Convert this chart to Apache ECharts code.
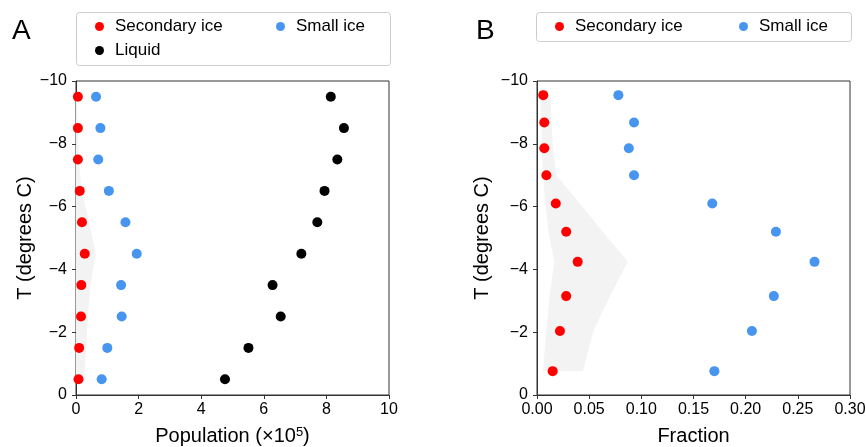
<!DOCTYPE html>
<html>
<head>
<meta charset="utf-8">
<script src="https://cdn.jsdelivr.net/npm/echarts@6/dist/echarts.min.js"></script>
<style>
  html, body { margin: 0; padding: 0; background: #fff; }
  #chart { width: 866px; height: 447px; }
</style>
</head>
<body>
<div id="chart"></div>
<script>
// panel A: populations (x 1e5) against temperature
var tempA = [-9.5, -8.5, -7.5, -6.5, -5.5, -4.5, -3.5, -2.5, -1.5, -0.5];
var secondaryA = [0.06, 0.06, 0.06, 0.12, 0.19, 0.28, 0.17, 0.16, 0.10, 0.08];
var smallA = [0.64, 0.78, 0.71, 1.05, 1.58, 1.94, 1.44, 1.46, 1.00, 0.82];
var liquidA = [8.14, 8.56, 8.35, 7.94, 7.71, 7.20, 6.28, 6.54, 5.51, 4.76];
var bandLowA = [0, 0, 0, 0, 0, 0, 0, 0, 0, 0];
var bandHighA = [0.03, 0.06, 0.10, 0.17, 0.42, 0.63, 0.46, 0.38, 0.33, 0.26];

// panel B: fractions against temperature
var tempB = [-9.55, -8.68, -7.86, -7.0, -6.1, -5.2, -4.24, -3.15, -2.04, -0.76];
var secondaryB = [0.006, 0.007, 0.007, 0.009, 0.018, 0.028, 0.039, 0.028, 0.022, 0.015];
var smallB = [0.078, 0.093, 0.088, 0.093, 0.168, 0.229, 0.266, 0.227, 0.206, 0.170];
var bandLowB = [0.003, 0.004, 0.0045, 0.0057, 0.008, 0.011, 0.0166, 0.0121, 0.0089, 0.0057];
var bandHighB = [0.013, 0.014, 0.0153, 0.0185, 0.041, 0.063, 0.087, 0.070, 0.054, 0.044];

var xTicksA = [0, 2, 4, 6, 8, 10];
var xTicksB = [0, 0.05, 0.1, 0.15, 0.2, 0.25, 0.3];
var yTicks = [-10, -8, -6, -4, -2, 0];

var RED = '#ff0000', BLUE = '#4795ee', BLACK = '#000000', BAND = '#f3f3f3';
var FONT = 'Liberation Sans, Arial, sans-serif';

function minus(v) {
  return v < 0 ? '\u2212' + Math.abs(v) : String(v);
}

function pairs(xs, ys) {
  return xs.map(function (x, i) { return [x, ys[i]]; });
}

// shaded band as one polygon: high edge top->bottom, low edge back up
function bandSeries(idx, lows, highs, temps) {
  return {
    type: 'custom',
    xAxisIndex: idx,
    yAxisIndex: idx,
    silent: true,
    data: temps.map(function (t, i) { return [lows[i], highs[i], t]; }),
    encode: { x: [0, 1], y: 2 },
    renderItem: function (params, api) {
      if (params.dataIndex !== 0) return null;
      var pts = [];
      for (var i = 0; i < temps.length; i++) pts.push(api.coord([highs[i], temps[i]]));
      for (var j = temps.length - 1; j >= 0; j--) pts.push(api.coord([lows[j], temps[j]]));
      return { type: 'polygon', shape: { points: pts }, style: { fill: BAND } };
    },
    z: 1
  };
}

function scatter(name, idx, data, color) {
  return {
    name: name,
    type: 'scatter',
    xAxisIndex: idx,
    yAxisIndex: idx,
    symbol: 'circle',
    symbolSize: 10,
    itemStyle: { color: color, opacity: 1 },
    data: data,
    z: 3
  };
}

function valueX(idx, min, max, interval, fmt, name, nameRich) {
  return {
    type: 'value',
    gridIndex: idx,
    min: min, max: max, interval: interval,
    name: name,
    nameLocation: 'middle',
    nameGap: 31,
    nameTextStyle: { fontSize: 20, color: '#000', fontFamily: FONT, rich: nameRich },
    axisLine: { show: true, onZero: false, lineStyle: { color: '#333', width: 1 } },
    axisTick: { show: true, length: 4, lineStyle: { color: '#333' } },
    axisLabel: { fontSize: 16, color: '#000', fontFamily: FONT, margin: 7, formatter: fmt, showMinLabel: true, showMaxLabel: true },
    splitLine: { show: false }
  };
}

function valueY(idx, gap) {
  return {
    type: 'value',
    gridIndex: idx,
    min: -10, max: 0, interval: 2,
    inverse: true,
    name: 'T (degrees C)',
    nameLocation: 'middle',
    nameGap: gap,
    nameRotate: 90,
    nameTextStyle: { fontSize: 20, color: '#000', fontFamily: FONT },
    axisLine: { show: true, onZero: false, lineStyle: { color: '#333', width: 1 } },
    axisTick: { show: true, length: 4, lineStyle: { color: '#333' } },
    axisLabel: { fontSize: 16, color: '#000', fontFamily: FONT, margin: 9, formatter: minus },
    splitLine: { show: false }
  };
}

function legendItem(name, left, top) {
  return {
    data: [name],
    left: left, top: top,
    padding: 0,
    icon: 'circle',
    itemWidth: 9, itemHeight: 9,
    selectedMode: false,
    textStyle: { fontSize: 17, color: '#000', fontFamily: FONT, padding: [0, 0, 0, 6] }
  };
}

var chart = echarts.init(document.getElementById('chart'), null, { renderer: 'canvas' });

chart.setOption({
  animation: false,
  backgroundColor: '#fff',
  grid: [
    { left: 76, right: 477, top: 81, bottom: 52, containLabel: false, outerBoundsMode: 'none', show: true, borderColor: '#333', borderWidth: 1 },
    { left: 537, right: 16, top: 81, bottom: 52, containLabel: false, outerBoundsMode: 'none', show: true, borderColor: '#333', borderWidth: 1 }
  ],
  xAxis: [
    valueX(0, 0, 10, 2, function (v) { return String(v); }, 'Population (\u00d710{sup|5})',
      { sup: { fontSize: 13, verticalAlign: 'top', padding: [0, 0, 8, 0], fontFamily: FONT } }),
    valueX(1, 0, 0.3, 0.05, function (v) { return v.toFixed(2); }, 'Fraction')
  ],
  yAxis: [valueY(0, 41), valueY(1, 45)],
  legend: [
    legendItem('Secondary ice', 95, 18),
    legendItem('Small ice', 276, 18),
    legendItem('Liquid', 95, 42),
    legendItem('Secondary ice', 555, 18),
    legendItem('Small ice', 739, 18)
  ],
  graphic: [
    { type: 'rect', left: 76, top: 12, shape: { width: 314, height: 53, r: 3 }, style: { fill: '#fff', stroke: '#cccccc', lineWidth: 1 }, z: -1 },
    { type: 'rect', left: 536, top: 12, shape: { width: 315, height: 29, r: 3 }, style: { fill: '#fff', stroke: '#cccccc', lineWidth: 1 }, z: -1 },
    { type: 'text', left: 12, top: 17, style: { text: 'A', fontSize: 28, fill: '#000', fontFamily: FONT } },
    { type: 'text', left: 476, top: 17, style: { text: 'B', fontSize: 28, fill: '#000', fontFamily: FONT } }
  ],
  series: [
    bandSeries(0, bandLowA, bandHighA, tempA),
    scatter('Secondary ice', 0, pairs(secondaryA, tempA), RED),
    scatter('Small ice', 0, pairs(smallA, tempA), BLUE),
    scatter('Liquid', 0, pairs(liquidA, tempA), BLACK),
    bandSeries(1, bandLowB, bandHighB, tempB),
    scatter('Secondary ice', 1, pairs(secondaryB, tempB), RED),
    scatter('Small ice', 1, pairs(smallB, tempB), BLUE)
  ]
});
</script>
</body>
</html>
